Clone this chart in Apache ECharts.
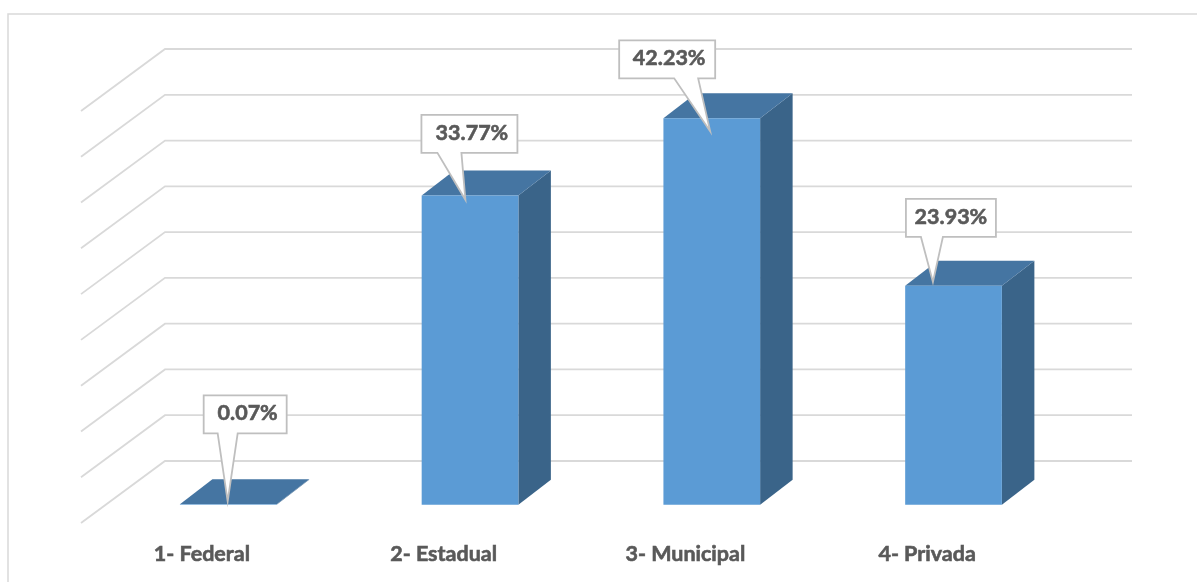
<!DOCTYPE html>
<html>
<head>
<meta charset="utf-8">
<style>html,body{margin:0;padding:0;background:#fff;overflow:hidden}#c{width:1197px;height:582px}</style>
<script src="https://cdn.jsdelivr.net/npm/echarts@6/dist/echarts.min.js"></script>
</head>
<body>
<div id="c"></div>
<script>
const categories = ['1- Federal', '2- Estadual', '3- Municipal', '4- Privada'];
const values = [0.07, 33.77, 42.23, 23.93];
const valueLabels = ['0.07%', '33.77%', '42.23%', '23.93%'];
const gridTicks = [0, 5, 10, 15, 20, 25, 30, 35, 40, 45];

// Projection of the pseudo-3D scene, in pixels
const WALL = [84, -62], BAR_FRONT = [26.4, -18.2], BAR_DEPTH = [32.5, -25];
const BOX_H = 38;
// Callout placement relative to the front-top centre of each bar
const calloutTip = [[-0.6, -2.8], [-4.6, 4.2], [-1.6, 13.2], [-20.6, -3.8]];
const calloutBox = [[-24, -106, 83], [-44, -85, 96], [-91, -91, 96], [-27, -83, 90]];
const calloutBase = [[-10, 10], [-28, -4], [-36, -12], [-12, 10]];
const textShift = [2.5, 2.5, 2, 0];

const chart = echarts.init(document.getElementById('c'), null, {renderer: 'canvas'});
const font = 'Lato, "Open Sans", sans-serif';
const ink = '#595959';
chart.setOption({
  animation: false,
  backgroundColor: '#fff',
  graphic: [{
    type: 'rect', z: -10, silent: true,
    shape: {x: 8, y: 14, width: 1220, height: 600},
    style: {fill: '#fff', stroke: '#d9d9d9', lineWidth: 1.5}
  }],
  grid: {left: 81, right: 149, top: 111, bottom: 59},
  xAxis: {
    type: 'category', data: categories,
    axisLine: {show: false}, axisTick: {show: false}, splitLine: {show: false},
    axisLabel: {color: ink, fontFamily: font, fontWeight: 'bold', fontSize: 21.5, margin: 20, textBorderColor: ink, textBorderWidth: 0.6}
  },
  yAxis: {type: 'value', min: 0, max: 45, interval: 5, show: false, splitLine: {show: false}},
  series: [
    {
      type: 'custom', coordinateSystem: 'cartesian2d', z: 1, silent: true,
      data: gridTicks.map(v => [0, v]),
      encode: {x: 0, y: 1},
      renderItem(params, api) {
        const y = api.coord([0, api.value(1)])[1];
        const r = params.coordSys;
        return {
          type: 'polyline',
          shape: {points: [[r.x, y], [r.x + WALL[0], y + WALL[1]], [r.x + r.width + WALL[0], y + WALL[1]]]},
          style: {fill: null, stroke: '#d9d9d9', lineWidth: 1.8}
        };
      }
    },
    {
      type: 'custom', coordinateSystem: 'cartesian2d', z: 2, silent: true,
      data: values.map((v, i) => [i, v]),
      encode: {x: 0, y: 1},
      renderItem(params, api) {
        const i = api.value(0);
        const top = api.coord([i, api.value(1)]);
        const base = api.coord([i, 0]);
        const w = api.size([1, 0])[0] * 0.4;
        const xl = top[0] - w / 2 + BAR_FRONT[0], xr = xl + w;
        const yt = top[1] + BAR_FRONT[1], yb = base[1] + BAR_FRONT[1];
        const [dx, dy] = BAR_DEPTH;
        return {
          type: 'group',
          children: [
            {type: 'polygon', shape: {points: [[xr, yt], [xr + dx, yt + dy], [xr + dx, yb + dy], [xr, yb]]}, style: {fill: '#3a6489'}},
            {type: 'polygon', shape: {points: [[xl, yt], [xl + dx, yt + dy], [xr + dx, yt + dy], [xr, yt]]}, style: {fill: '#4575a2'}},
            {type: 'rect', shape: {x: xl, y: yt, width: w, height: yb - yt}, style: {fill: '#5b9bd5'}}
          ]
        };
      }
    },
    {
      type: 'custom', coordinateSystem: 'cartesian2d', z: 3, silent: true,
      data: values.map((v, i) => [i, v]),
      encode: {x: 0, y: 1},
      renderItem(params, api) {
        const i = api.value(0);
        const top = api.coord([i, api.value(1)]);
        const cx = top[0] + BAR_FRONT[0], cy = top[1] + BAR_FRONT[1];
        const tip = [cx + calloutTip[i][0], cy + calloutTip[i][1]];
        const bx = tip[0] + calloutBox[i][0], by = tip[1] + calloutBox[i][1], bw = calloutBox[i][2];
        const byb = by + BOX_H;
        const b0 = tip[0] + calloutBase[i][0], b1 = tip[0] + calloutBase[i][1];
        return {
          type: 'group',
          children: [
            {
              type: 'polygon',
              shape: {points: [[bx, by], [bx + bw, by], [bx + bw, byb], [b1, byb], tip, [b0, byb], [bx, byb]]},
              style: {fill: '#fff', stroke: '#bfbfbf', lineWidth: 1.8}
            },
            {
              type: 'text',
              style: {
                x: bx + bw / 2 + textShift[i], y: by + BOX_H / 2 - 1,
                text: valueLabels[i], align: 'center', verticalAlign: 'middle',
                fill: ink, stroke: ink, lineWidth: 0.6, font: 'bold 21.5px ' + font
              }
            }
          ]
        };
      }
    }
  ]
});
</script>
</body>
</html>
